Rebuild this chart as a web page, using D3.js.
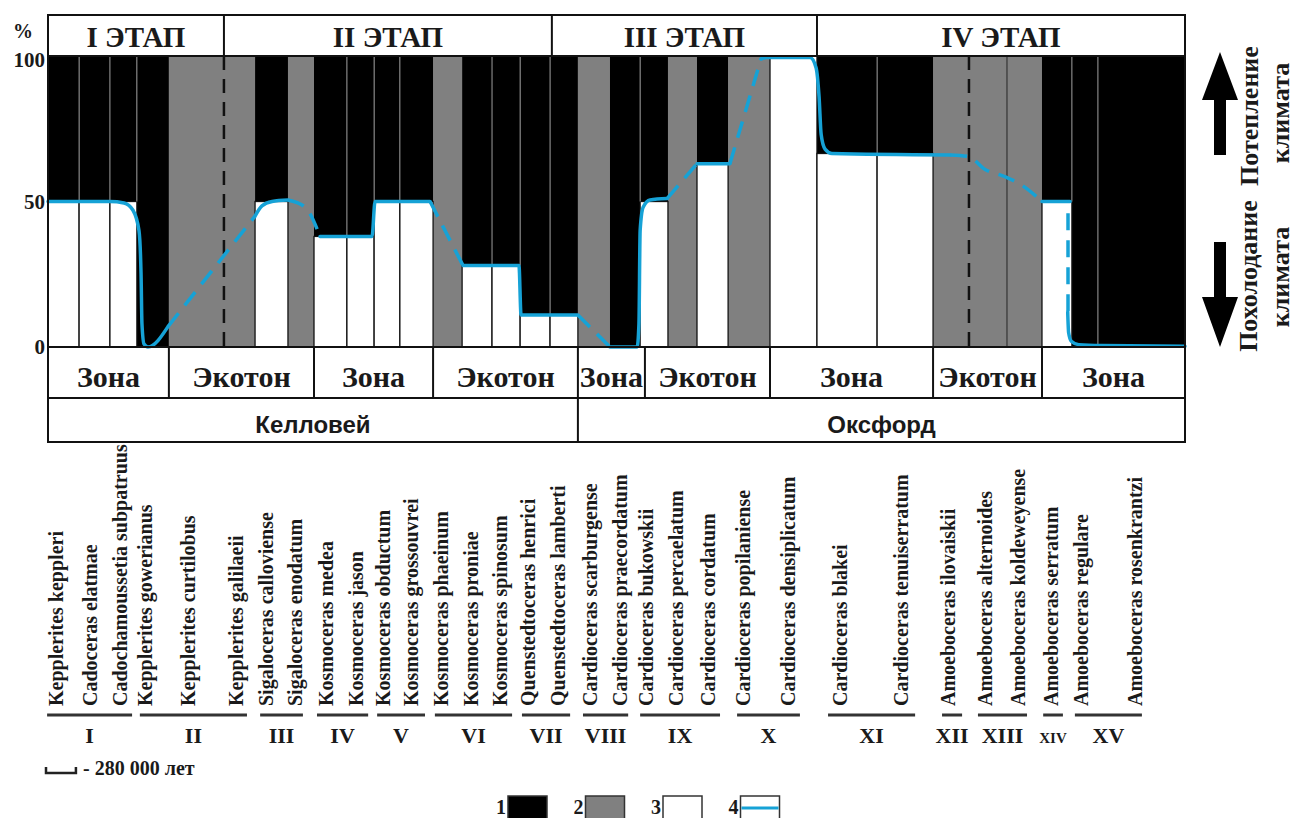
<!DOCTYPE html>
<html>
<head>
<meta charset="utf-8">
<script src="https://cdn.jsdelivr.net/npm/d3@7"></script>
<style>
  html, body { margin: 0; padding: 0; background: #fff; }
  svg { display: block; }
</style>
</head>
<body>
<svg id="chart" width="1296" height="818"></svg>
<script>
// time runs in units of the scale bar (1 unit = 280 000 years)
const colEdges = [0, 1.04, 2.07, 2.97, 4.04, 6.92, 8.02, 8.89, 9.99, 10.90, 11.76, 12.87, 13.84, 14.84,
	15.78, 16.78, 17.71, 18.78, 19.79, 20.72, 21.69, 22.73, 24.13, 25.70, 27.71, 29.58, 32.05, 33.22,
	34.22, 35.09, 38];
// share of cold-water taxa (3), the rest is warm-water (1); null = ecotone (2)
const coldShare = [50, 50, 50, 0, null, 50, null, 38, 38, 50, 50, null, 28, 28, 11, 11, null, 0, 50,
	null, 63, null, 100, 66.5, 66.5, null, null, 50, 0, 0];

const stageNames = ["I ЭТАП", "II ЭТАП", "III ЭТАП", "IV ЭТАП"];
const stageEdges = [0, 5.88, 16.84, 25.70, 38];
const zoneNames = ["Зона", "Экотон", "Зона", "Экотон", "Зона", "Экотон", "Зона", "Экотон", "Зона"];
const zoneEdges = [0, 4.04, 8.89, 12.87, 17.71, 19.95, 24.13, 29.58, 33.22, 38];
const periodNames = ["Келловей", "Оксфорд"];
const periodEdges = [0, 17.71, 38];
const dashedBounds = [5.88, 30.78];
const yTicks = [0, 50, 100];

// climate curve (4): [time, %]
const climateSolid = [
	[[0, 50], [2.07, 50], [2.54, 49.5], [2.84, 47], [3.04, 40], [3.11, 25], [3.14, 8], [3.21, 1], [3.34, 0], [4.01, 7]],
	[[6.92, 45], [7.15, 48.5], [7.49, 50], [8.02, 50.5]],
	[[9.09, 38], [10.83, 38], [10.93, 50], [12.77, 50]],
	[[13.87, 28], [15.74, 28], [15.81, 11], [17.71, 11]],
	[[18.78, 0], [19.69, 0], [19.75, 8], [19.79, 40], [19.89, 48], [20.12, 50.5], [20.69, 51]],
	[[21.69, 63], [22.79, 63]],
	[[23.83, 99], [24.03, 99.5], [25.47, 99.5], [25.67, 96], [25.77, 86], [25.84, 73], [25.97, 68], [26.2, 66.5], [30.15, 66]],
	[[33.22, 50], [34.16, 50]],
	[[34.08, 12], [34.11, 5], [34.2, 2], [34.45, 0.8], [35.2, 0.5], [38, 0.3]]
];
const climateDashed = [
	[[4.01, 7], [6.92, 45]],
	[[8.02, 50.5], [8.6, 48], [9.09, 38]],
	[[12.77, 50], [13.87, 28]],
	[[17.71, 11], [18.78, 0]],
	[[20.69, 51], [21.69, 63]],
	[[22.79, 63], [23.83, 99]],
	[[30.15, 66], [30.75, 65.5], [31.32, 61], [31.99, 58.5], [32.56, 55.5], [33.22, 50]],
	[[34.09, 46], [34.09, 12]]
];

const speciesNames = ["Kepplerites keppleri", "Cadoceras elatmae", "Cadochamoussetia subpatruus",
	"Kepplerites gowerianus", "Kepplerites curtilobus", "Kepplerites galilaeii", "Sigaloceras calloviense",
	"Sigaloceras enodatum", "Kosmoceras medea", "Kosmoceras jason", "Kosmoceras obductum",
	"Kosmoceras grossouvrei", "Kosmoceras phaeinum", "Kosmoceras proniae", "Kosmoceras spinosum",
	"Quenstedtoceras henrici", "Quenstedtoceras lamberti", "Cardioceras scarburgense",
	"Cardioceras praecordatum", "Cardioceras bukowskii", "Cardioceras percaelatum", "Cardioceras cordatum",
	"Cardioceras popilaniense", "Cardioceras densiplicatum", "Cardioceras blakei",
	"Cardioceras tenuiserratum", "Amoeboceras ilovaiskii", "Amoeboceras alternoides",
	"Amoeboceras koldeweyense", "Amoeboceras serratum", "Amoeboceras regulare", "Amoeboceras rosenkrantzi"];
const speciesAt = [0.33, 1.47, 2.47, 3.31, 4.75, 6.35, 7.35, 8.32, 9.36, 10.36, 11.26, 12.2, 13.2, 14.2,
	15.17, 16.11, 17.11, 18.18, 19.18, 20.05, 21.06, 22.13, 23.3, 24.8, 26.54, 28.58, 30.15, 31.38, 32.49,
	33.59, 34.59, 36.4];
const groupNames = ["I", "II", "III", "IV", "V", "VI", "VII", "VIII", "IX", "X", "XI", "XII", "XIII", "XIV", "XV"];
const groupFrom = [-0.03, 3.07, 7.09, 8.99, 11.0, 12.93, 15.84, 17.88, 19.79, 23.03, 26.07, 29.88, 31.08, 33.26, 34.32];
const groupTo = [2.81, 6.65, 8.52, 10.7, 12.6, 15.51, 17.45, 19.39, 22.46, 25.13, 28.98, 30.55, 32.72, 33.92, 36.56];

const legendLabels = ["1", "2", "3", "4"];

const serif = "'Liberation Serif', 'Times New Roman', serif";
const sans = "'Liberation Sans', Arial, sans-serif";
const blue = "#16a2d6";
const grey = "#808080";

const tableTop = 15, plotTop = 56, plotBottom = 347, zoneBottom = 398, periodBottom = 442;

const svg = d3.select("#chart");
const x = d3.scaleLinear().domain([0, 38]).range([48, 1185]);
const y = d3.scaleLinear().domain([0, 100]).range([plotBottom, plotTop]);

// columns
const cols = coldShare.map((v, i) => ({ x0: colEdges[i], x1: colEdges[i + 1], v }));
const gCols = svg.append("g");

gCols.selectAll("rect.eco")
	.data(cols.filter(d => d.v === null))
	.join("rect")
	.attr("class", "eco")
	.attr("x", d => x(d.x0))
	.attr("width", d => x(d.x1) - x(d.x0))
	.attr("y", y(100))
	.attr("height", y(0) - y(100))
	.attr("fill", grey);

gCols.selectAll("rect.warm")
	.data(cols.filter(d => d.v !== null && d.v < 100))
	.join("rect")
	.attr("class", "warm")
	.attr("x", d => x(d.x0))
	.attr("width", d => x(d.x1) - x(d.x0))
	.attr("y", y(100))
	.attr("height", d => y(d.v) - y(100))
	.attr("fill", "#000");

gCols.selectAll("rect.cold")
	.data(cols.filter(d => d.v > 0))
	.join("rect")
	.attr("class", "cold")
	.attr("x", d => x(d.x0))
	.attr("width", d => x(d.x1) - x(d.x0))
	.attr("y", d => y(d.v))
	.attr("height", d => y(0) - y(d.v))
	.attr("fill", "#fff")
	.attr("stroke", "#111")
	.attr("stroke-width", 1.3);

const seps = d3.range(1, cols.length).map(i => ({ at: colEdges[i], a: cols[i - 1].v, b: cols[i].v }));

// thin grey lines between neighbouring black columns
gCols.selectAll("line.sep")
	.data(seps.filter(s => s.a !== null && s.b !== null && Math.max(s.a, s.b) < 100))
	.join("line")
	.attr("class", "sep")
	.attr("x1", s => x(s.at))
	.attr("x2", s => x(s.at))
	.attr("y1", y(100))
	.attr("y2", s => y(Math.max(s.a, s.b)))
	.attr("stroke", "#9a9a9a")
	.attr("stroke-width", 1);

gCols.selectAll("line.ecosep")
	.data(seps.filter(s => s.a === null && s.b === null))
	.join("line")
	.attr("class", "ecosep")
	.attr("x1", s => x(s.at))
	.attr("x2", s => x(s.at))
	.attr("y1", y(100))
	.attr("y2", y(0))
	.attr("stroke", "#333")
	.attr("stroke-width", 1.2);

svg.append("g").selectAll("line")
	.data(dashedBounds)
	.join("line")
	.attr("x1", d => x(d))
	.attr("x2", d => x(d))
	.attr("y1", y(100))
	.attr("y2", y(0))
	.attr("stroke", "#111")
	.attr("stroke-width", 2.5)
	.attr("stroke-dasharray", "14,9");

// climate curve
const linePath = pts => d3.line()
	.x(p => x(p[0]))
	.y(p => y(p[1]))
	.curve(pts.length > 2 ? d3.curveMonotoneX : d3.curveLinear)(pts);

const gClimate = svg.append("g")
	.attr("fill", "none")
	.attr("stroke", blue)
	.attr("stroke-width", 3.5);

gClimate.selectAll("path.solid")
	.data(climateSolid)
	.join("path")
	.attr("class", "solid")
	.attr("stroke-linecap", "round")
	.attr("d", linePath);

gClimate.selectAll("path.dashed")
	.data(climateDashed)
	.join("path")
	.attr("class", "dashed")
	.attr("stroke-dasharray", "17,10")
	.attr("d", linePath);

// table frame
const frame = svg.append("g")
	.attr("stroke", "#111")
	.attr("stroke-width", 2)
	.attr("fill", "none");

frame.append("rect")
	.attr("x", x(0))
	.attr("y", tableTop)
	.attr("width", x(38) - x(0))
	.attr("height", periodBottom - tableTop);

[plotTop, plotBottom, zoneBottom].forEach(h => {
	frame.append("line").attr("x1", x(0)).attr("x2", x(38)).attr("y1", h).attr("y2", h);
});

const rowLines = (edges, y1, y2) => {
	frame.append("g").selectAll("line")
		.data(edges.slice(1, -1))
		.join("line")
		.attr("x1", d => x(d))
		.attr("x2", d => x(d))
		.attr("y1", y1)
		.attr("y2", y2);
};
rowLines(stageEdges, tableTop, plotTop);
rowLines(zoneEdges, plotBottom, zoneBottom);
rowLines(periodEdges, zoneBottom, periodBottom);

const rowText = (names, edges, baseline, family, size) => {
	svg.append("g")
		.attr("font-family", family)
		.attr("font-size", size)
		.attr("font-weight", "bold")
		.attr("fill", "#1a1a1a")
		.attr("text-anchor", "middle")
		.selectAll("text")
		.data(names)
		.join("text")
		.attr("x", (d, i) => (x(edges[i]) + x(edges[i + 1])) / 2)
		.attr("y", baseline)
		.text(d => d);
};
rowText(stageNames, stageEdges, 47, serif, 29);
rowText(zoneNames, zoneEdges, 387, serif, 30);
rowText(periodNames, periodEdges, 433, sans, 24);

// y axis
const yAxis = svg.append("g")
	.attr("transform", `translate(${x(0) - 3},0)`)
	.call(d3.axisLeft(y).tickValues(yTicks).tickSize(0).tickPadding(0));
yAxis.select(".domain").remove();
yAxis.selectAll("text")
	.attr("font-family", serif)
	.attr("font-size", 21)
	.attr("font-weight", "bold")
	.attr("fill", "#1a1a1a");
yAxis.selectAll(".tick").filter(d => d === 100).select("text").attr("dy", "0.52em");

svg.append("text")
	.attr("x", 23)
	.attr("y", 38)
	.attr("text-anchor", "middle")
	.attr("font-family", serif)
	.attr("font-size", 20)
	.attr("font-weight", "bold")
	.attr("fill", "#1a1a1a")
	.text("%");

// climate arrows
svg.append("path")
	.attr("d", "M1220,52 L1238,100 L1226,100 L1226,155 L1214,155 L1214,100 L1202,100 Z")
	.attr("fill", "#000");
svg.append("path")
	.attr("d", "M1214,242 L1226,242 L1226,297 L1238,297 L1220,347 L1202,297 L1214,297 Z")
	.attr("fill", "#000");

const sideText = [
	{ t: "Потепление", cx: 1250, cy: 116 },
	{ t: "климата", cx: 1281, cy: 113 },
	{ t: "Похолодание", cx: 1249, cy: 276 },
	{ t: "климата", cx: 1281, cy: 277 }
];
svg.append("g")
	.attr("font-family", serif)
	.attr("font-size", 26)
	.attr("font-weight", "bold")
	.attr("fill", "#1a1a1a")
	.attr("text-anchor", "middle")
	.selectAll("text")
	.data(sideText)
	.join("text")
	.attr("transform", d => `translate(${d.cx},${d.cy}) rotate(-90)`)
	.attr("dy", "0.3em")
	.text(d => d.t);

// species
svg.append("g")
	.attr("font-family", serif)
	.attr("font-size", 20)
	.attr("font-weight", "bold")
	.attr("fill", "#1a1a1a")
	.selectAll("text")
	.data(speciesNames)
	.join("text")
	.attr("transform", (d, i) => `translate(${x(speciesAt[i])},706) rotate(-90)`)
	.attr("dy", "0.25em")
	.text(d => d);

const gGroups = svg.append("g");
gGroups.selectAll("line")
	.data(groupNames)
	.join("line")
	.attr("x1", (d, i) => x(groupFrom[i]))
	.attr("x2", (d, i) => x(groupTo[i]))
	.attr("y1", 715)
	.attr("y2", 715)
	.attr("stroke", "#333")
	.attr("stroke-width", 3);
gGroups.selectAll("text")
	.data(groupNames)
	.join("text")
	.attr("x", (d, i) => (x(groupFrom[i]) + x(groupTo[i])) / 2)
	.attr("y", 743)
	.attr("text-anchor", "middle")
	.attr("font-family", serif)
	.attr("font-size", d => d === "XIV" ? 15 : 22)
	.attr("font-weight", "bold")
	.attr("fill", "#1a1a1a")
	.text(d => d);

// scale bar
const unit = x(1) - x(0);
svg.append("path")
	.attr("d", `M46,767 V773 H${46 + unit} V767`)
	.attr("fill", "none")
	.attr("stroke", "#222")
	.attr("stroke-width", 2.5);
svg.append("text")
	.attr("x", 83)
	.attr("y", 775)
	.attr("font-family", serif)
	.attr("font-size", 20)
	.attr("font-weight", "bold")
	.attr("fill", "#1a1a1a")
	.text("- 280 000 лет");

// legend
const legendFill = ["#000", grey, "#fff", "#fff"];
const gLegend = svg.append("g")
	.selectAll("g")
	.data(legendLabels)
	.join("g")
	.attr("transform", (d, i) => `translate(${508 + i * 77.5},796)`);
gLegend.append("rect")
	.attr("width", 39)
	.attr("height", 26)
	.attr("fill", (d, i) => legendFill[i])
	.attr("stroke", "#333")
	.attr("stroke-width", 1.5);
gLegend.filter((d, i) => i === 3).append("line")
	.attr("x1", 1)
	.attr("x2", 38)
	.attr("y1", 12)
	.attr("y2", 12)
	.attr("stroke", blue)
	.attr("stroke-width", 3);
gLegend.append("text")
	.attr("x", -2)
	.attr("y", 18)
	.attr("text-anchor", "end")
	.attr("font-family", serif)
	.attr("font-size", 20)
	.attr("font-weight", "bold")
	.attr("fill", "#1a1a1a")
	.text(d => d);
</script>
</body>
</html>
